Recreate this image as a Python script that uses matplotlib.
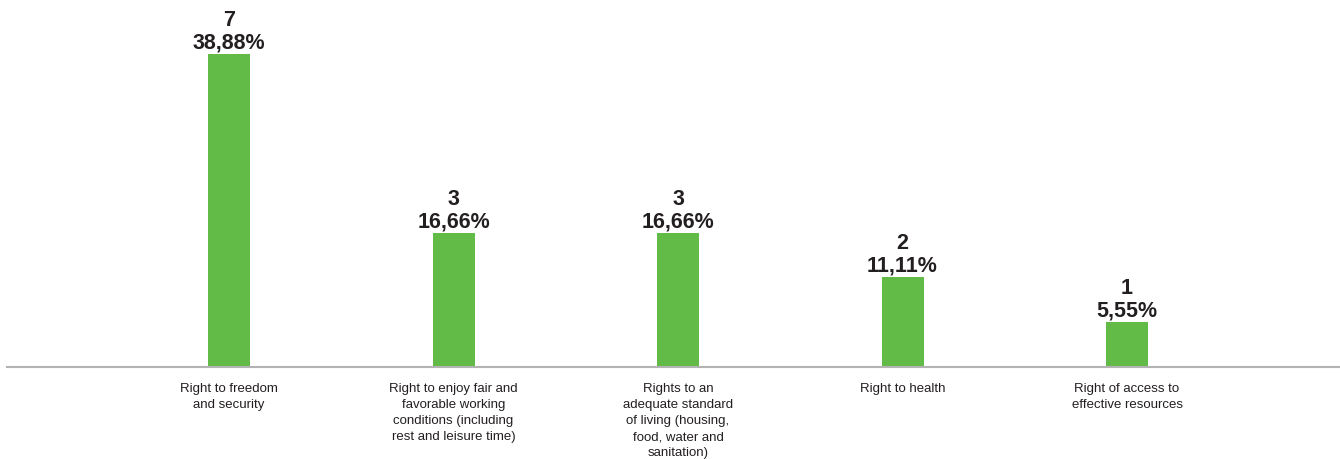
import matplotlib
matplotlib.use("Agg")
import matplotlib.pyplot as plt

categories = [
    "Right to freedom\nand security",
    "Right to enjoy fair and\nfavorable working\nconditions (including\nrest and leisure time)",
    "Rights to an\nadequate standard\nof living (housing,\nfood, water and\nsanitation)",
    "Right to health",
    "Right of access to\neffective resources",
]
counts = [7, 3, 3, 2, 1]
percent_labels = ["38,88%", "16,66%", "16,66%", "11,11%", "5,55%"]

BAR_COLOR = "#62bb47"
TEXT_COLOR = "#231f20"
AXIS_COLOR = "#b3b3b3"

plt.rcParams['font.family'] = ['Liberation Sans', 'DejaVu Sans']

W, H = 1340, 460
fig = plt.figure(figsize=(W / 100, H / 100), dpi=100)
base_px = 367.5
ax = fig.add_axes([7 / W, (H - base_px) / H, 1 - 7 / W, base_px / H])

x = list(range(len(categories)))
ax.bar(x, counts, width=0.187, color=BAR_COLOR, zorder=2)

ax.set_xlim(-0.9889, 4.9487)
ax.set_ylim(0, base_px / 44.6)

for xi, c, p in zip(x, counts, percent_labels):
    ax.annotate(f"{c}\n{p}", (xi, c), xytext=(0, 1), textcoords="offset points",
                ha="center", va="bottom", fontsize=15.5, fontweight="bold",
                color=TEXT_COLOR, linespacing=1.1, annotation_clip=False)

for xi, cat in zip(x, categories):
    ax.annotate(cat, (xi, 0), xytext=(0, -11.5), textcoords="offset points",
                ha="center", va="top", fontsize=9.5, color=TEXT_COLOR,
                linespacing=1.44, annotation_clip=False)

for s in ["top", "right", "left"]:
    ax.spines[s].set_visible(False)
ax.spines["bottom"].set_color(AXIS_COLOR)
ax.spines["bottom"].set_linewidth(1.5)
ax.set_xticks([])
ax.set_yticks([])
ax.patch.set_alpha(0)

fig.savefig("out.png", dpi=100)
